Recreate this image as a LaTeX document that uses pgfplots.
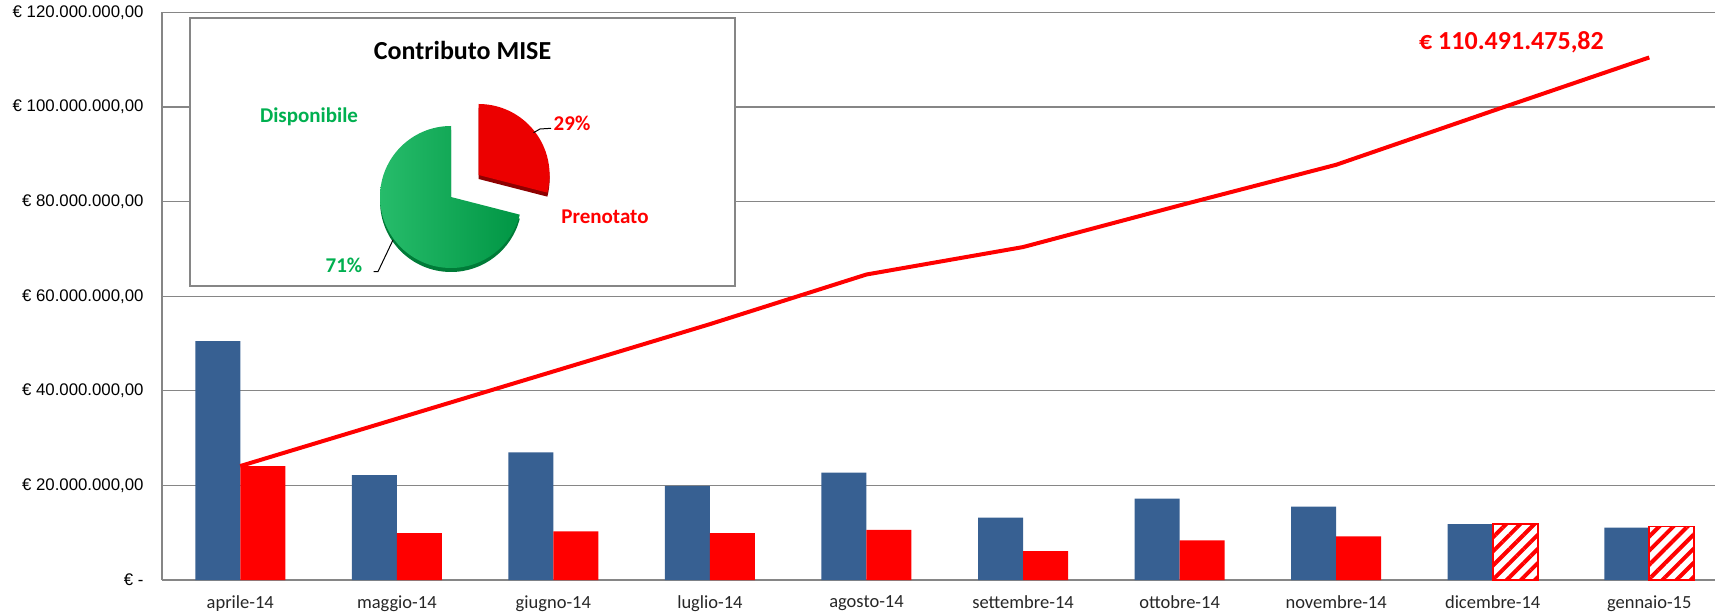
\documentclass[border=0pt]{standalone}
\usepackage{pgfplots}
\pgfplotsset{compat=1.18}
\usepackage{fontspec}
\setmainfont{Carlito}
\newfontfamily\arialfont{Liberation Sans}
\usetikzlibrary{patterns.meta}

\definecolor{barblue}{RGB}{55,96,146}
\definecolor{gridgray}{RGB}{134,134,134}
\definecolor{piegreen}{RGB}{0,176,80}
\definecolor{piered}{RGB}{236,0,0}

\begin{document}
\begin{tikzpicture}
\useasboundingbox (0,0) rectangle (857.5pt,308pt);

\begin{axis}[
    at={(81pt,18pt)}, anchor=south west,
    scale only axis, width=776.5pt, height=283.75pt,
    xmin=-0.5, xmax=9.42, ymin=0, ymax=120,
    axis x line*=bottom, axis y line*=left,
    axis line style={-, gridgray, line width=0.8pt},
    ymajorgrids, grid style={gridgray, line width=0.6pt},
    ytick={0,20,40,60,80,100,120},
    yticklabels={{€ -\hspace{5.5pt}}, {€ 20.000.000,00}, {€ 40.000.000,00},
                 {€ 60.000.000,00}, {€ 80.000.000,00}, {€ 100.000.000,00},
                 {€ 120.000.000,00}},
    xtick={0,...,9},
    xticklabels={aprile-14, maggio-14, giugno-14, luglio-14, agosto-14,
                 settembre-14, ottobre-14, novembre-14, dicembre-14, gennaio-15},
    major tick length=0pt,
    xticklabel style={font=\fontsize{9.25}{11}\selectfont, black!85, yshift=-4.3pt},
    yticklabel style={font=\arialfont\fontsize{8.4}{10}\selectfont, black, xshift=-5.7pt},
    clip=false,
]
% Disponibile (blue)
\addplot[ybar, bar width=22.5pt, bar shift=-11.25pt, fill=barblue, draw=none]
coordinates {(0,50.5)(1,22.2)(2,27.0)(3,19.9)(4,22.7)(5,13.2)(6,17.2)(7,15.5)(8,11.8)(9,11.1)};
% Prenotato (red)
\addplot[ybar, bar width=22.5pt, bar shift=11.25pt, fill=red, draw=none]
coordinates {(0,24.1)(1,9.9)(2,10.3)(3,9.9)(4,10.6)(5,6.1)(6,8.4)(7,9.2)};
% Prenotato, forecast (hatched)
\addplot[ybar, bar width=22.5pt, bar shift=11.25pt, draw=red, line width=0.8pt,
         pattern={Lines[angle=45, distance=5pt, line width=2pt]}, pattern color=red]
coordinates {(8,11.8)(9,11.3)};
% cumulative
\addplot[red, line width=2pt, mark=none]
coordinates {(0,24.1)(1,34.1)(2,44.1)(3,54.1)(4,64.6)(5,70.4)(6,79.2)(7,87.8)(8,99.2)(9,110.49)};

\node[red, font=\fontsize{13}{15}\selectfont\bfseries] at (axis cs:8.12,113.7) {€ 110.491.475,82};
\end{axis}

% inset: Contributo MISE
\draw[gridgray, line width=1pt, fill=white] (95pt,165pt) rectangle (367.5pt,299pt);
\node[font=\fontsize{13}{15}\selectfont\bfseries] at (231.25pt,282.6pt) {Contributo MISE};

\begin{scope}[shift={(225.5pt,209.5pt)}]
  \fill[piegreen!70!black] (0,-2pt) -- ++(90:35.5pt) arc[start angle=90, end angle=345.6, radius=35.5pt] -- cycle;
  \shade[left color=piegreen!85!white, right color=piegreen!85!black]
    (0,0) -- (90:35.5pt) arc[start angle=90, end angle=345.6, radius=35.5pt] -- cycle;
\end{scope}
\begin{scope}[shift={(239.3pt,220.5pt)}]
  \fill[piered!60!black] (0,-2pt) -- ++(-14.4:35.5pt) arc[start angle=-14.4, end angle=90, radius=35.5pt] -- cycle;
  \fill[piered] (0,0) -- (-14.4:35.5pt) arc[start angle=-14.4, end angle=90, radius=35.5pt] -- cycle;
\end{scope}

\draw[black, line width=0.5pt] (266.75pt,241.65pt) -- (270pt,243.5pt) -- (275.5pt,243.85pt);
\draw[black, line width=0.5pt] (186.8pt,172.2pt) -- (189pt,172.2pt) -- (196.5pt,188pt);

\node[piegreen, font=\fontsize{10.5}{12}\selectfont\bfseries] at (154.5pt,249.5pt) {Disponibile};
\node[red, font=\fontsize{10.5}{12}\selectfont\bfseries] at (286pt,246.5pt) {29\%};
\node[red, font=\fontsize{10.5}{12}\selectfont\bfseries] at (302.5pt,199.5pt) {Prenotato};
\node[piegreen, font=\fontsize{10.5}{12}\selectfont\bfseries] at (172pt,175.5pt) {71\%};
\end{tikzpicture}
\end{document}
